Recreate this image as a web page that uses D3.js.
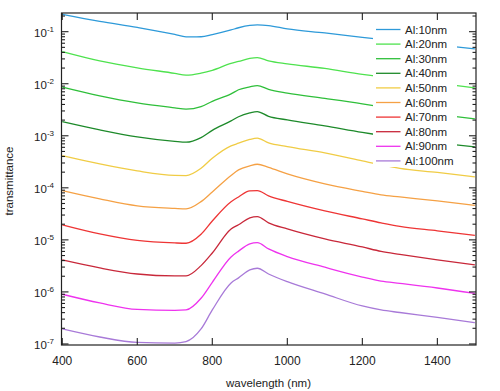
<!DOCTYPE html>
<html><head><meta charset="utf-8">
<script src="https://cdn.jsdelivr.net/npm/d3@7"></script>
<style>
html,body{margin:0;padding:0;background:#fff;}
text{font-family:"Liberation Sans",Arial,Helvetica,sans-serif;fill:#222;}
</style></head>
<body><svg id="c" width="500" height="391"></svg>
<script>
const wavelengths = [400,500,600,700,730,770,800,850,870,900,920,950,1000,1100,1200,1250,1300,1400,1500];
const seriesNames = ["Al:10nm","Al:20nm","Al:30nm","Al:40nm","Al:50nm","Al:60nm","Al:70nm","Al:80nm","Al:90nm","Al:100nm"];
const seriesColors = ["#2e9ad9","#4ee24e","#2fbf3a","#1d8a2a","#f0cc45","#f5a145","#ee3535","#c8283a","#ee33ee","#a87ad8"];
const al10  = [0.215,0.158,0.121,0.0889,0.0796,0.0800,0.0880,0.108,0.119,0.132,0.135,0.131,0.113,0.0948,0.0778,0.0711,0.0652,0.0558,0.0468];
const al20  = [0.0415,0.0275,0.0202,0.0158,0.0146,0.0160,0.0181,0.0246,0.0268,0.0307,0.0318,0.0275,0.0241,0.0197,0.0151,0.0136,0.0121,0.0102,0.00832];
const al30  = [0.00859,0.00585,0.00429,0.00344,0.00324,0.00364,0.0046,0.00638,0.00766,0.00871,0.00923,0.00778,0.00658,0.00522,0.00410,0.00359,0.00314,0.00258,0.00211];
const al40  = [0.00187,0.00130,0.000953,0.000780,0.000753,0.000923,0.00127,0.00193,0.00232,0.00275,0.00292,0.00236,0.00202,0.00155,0.00116,0.00102,0.000891,0.000729,0.000611];
const al50  = [0.000416,0.000288,0.000211,0.000173,0.000172,0.000238,0.00037,0.000640,0.000719,0.000851,0.000899,0.000729,0.000619,0.000469,0.000329,0.000275,0.000236,0.000198,0.000162];
const al60  = [8.83e-5,6.12e-5,4.49e-5,4.02e-5,3.94e-5,5.43e-5,8.34e-5,1.73e-4,2.21e-4,2.64e-4,2.84e-4,2.47e-4,1.85e-4,1.19e-4,8.53e-5,7.31e-5,6.68e-5,5.60e-5,4.59e-5];
const al70  = [1.94e-5,1.30e-5,9.75e-6,8.73e-6,8.61e-6,1.28e-5,2.3e-5,5.4e-5,6.68e-5,8.73e-5,8.83e-5,7.00e-5,5.48e-5,3.60e-5,2.53e-5,2.12e-5,1.81e-5,1.49e-5,1.22e-5];
const al80  = [4.11e-6,2.89e-6,2.21e-6,2.03e-6,2.03e-6,3.20e-6,5.6e-6,1.62e-5,1.95e-5,2.64e-5,2.80e-5,2.12e-5,1.62e-5,1.04e-5,7.31e-6,6.00e-6,5.25e-6,4.11e-6,3.30e-6];
const al90  = [9.02e-7,6.14e-7,4.60e-7,4.41e-7,4.50e-7,7.55e-7,1.53e-6,4.70e-6,6.08e-6,8.36e-6,8.85e-6,6.70e-6,4.76e-6,2.98e-6,1.93e-6,1.61e-6,1.46e-6,1.19e-6,9.35e-7];
const al100 = [1.94e-7,1.36e-7,1.07e-7,1.04e-7,1.11e-7,1.94e-7,4.5e-7,1.49e-6,1.86e-6,2.64e-6,2.85e-6,2.21e-6,1.57e-6,9.14e-7,5.37e-7,4.50e-7,4.02e-7,3.23e-7,2.56e-7];
const seriesValues = [al10,al20,al30,al40,al50,al60,al70,al80,al90,al100];
const xTicks = [400,600,800,1000,1200,1400];
const yMajorExp = [-1,-2,-3,-4,-5,-6,-7];
const xTitle = "wavelength (nm)";
const yTitle = "transmittance";

const svg = d3.select("#c");
const L = 61.5, R = 476, T = 13, B = 345;
const x = d3.scaleLinear().domain([398,1503]).range([L,R]);
const y = d3.scaleLog().domain([Math.pow(10,-7.02), Math.pow(10,-0.641)]).range([B,T]);

svg.append("defs").append("clipPath").attr("id","clip")
  .append("rect").attr("x",L).attr("y",T).attr("width",R-L).attr("height",B-T);

const line = d3.line().x((d,i)=>x(wavelengths[i])).y(d=>y(d)).curve(d3.curveMonotoneX);
const g = svg.append("g").attr("clip-path","url(#clip)");
seriesValues.forEach((vals,k)=>{
  g.append("path").datum(vals).attr("d",line)
    .attr("fill","none").attr("stroke",seriesColors[k]).attr("stroke-width",1.3);
});

// legend with white background
const lg = svg.append("g");
lg.append("rect").attr("x",373).attr("y",21).attr("width",84).attr("height",146).attr("fill","#fff");
seriesNames.forEach((n,k)=>{
  const yy = 29.5 + k*14.6;
  lg.append("line").attr("x1",376).attr("x2",400.5).attr("y1",yy).attr("y2",yy)
    .attr("stroke",seriesColors[k]).attr("stroke-width",1.3);
  lg.append("text").attr("x",405).attr("y",yy+4).attr("font-size","11.5px").text(n);
});

// frame
svg.append("rect").attr("x",L).attr("y",T).attr("width",R-L).attr("height",B-T)
  .attr("fill","none").attr("stroke","#222").attr("stroke-width",1.2);

// x ticks (bottom & top, inward)
const ax = svg.append("g").attr("stroke","#222").attr("stroke-width",1.1);
xTicks.forEach(t=>{
  ax.append("line").attr("x1",x(t)).attr("x2",x(t)).attr("y1",B).attr("y2",B-7);
  ax.append("line").attr("x1",x(t)).attr("x2",x(t)).attr("y1",T).attr("y2",T+7);
  svg.append("text").attr("x",x(t)).attr("y",365).attr("text-anchor","middle")
    .attr("font-size","12px").text(t);
});

// y ticks (log) inward on left & right
const [d0,d1] = y.domain();
y.ticks().forEach(v=>{
  if (v < d0 || v > d1) return;
  const lg10 = Math.log10(v);
  const major = Math.abs(lg10 - Math.round(lg10)) < 1e-6;
  const len = major ? 7 : 3.5;
  ax.append("line").attr("x1",L).attr("x2",L+len).attr("y1",y(v)).attr("y2",y(v));
  ax.append("line").attr("x1",R).attr("x2",R-len).attr("y1",y(v)).attr("y2",y(v));
});
yMajorExp.forEach(e=>{
  const yy = y(Math.pow(10,e));
  const t = svg.append("text").attr("x",54).attr("y",yy+5).attr("text-anchor","end").attr("font-size","11.5px");
  t.append("tspan").text("10");
  t.append("tspan").attr("dy",-5).attr("font-size","8px").text(String(e));
});

svg.append("text").attr("x",268.5).attr("y",387).attr("text-anchor","middle")
  .attr("font-size","11.5px").text(xTitle);
svg.append("text").attr("transform","translate(13,181) rotate(-90)").attr("text-anchor","middle")
  .attr("font-size","11.5px").text(yTitle);
</script></body></html>
